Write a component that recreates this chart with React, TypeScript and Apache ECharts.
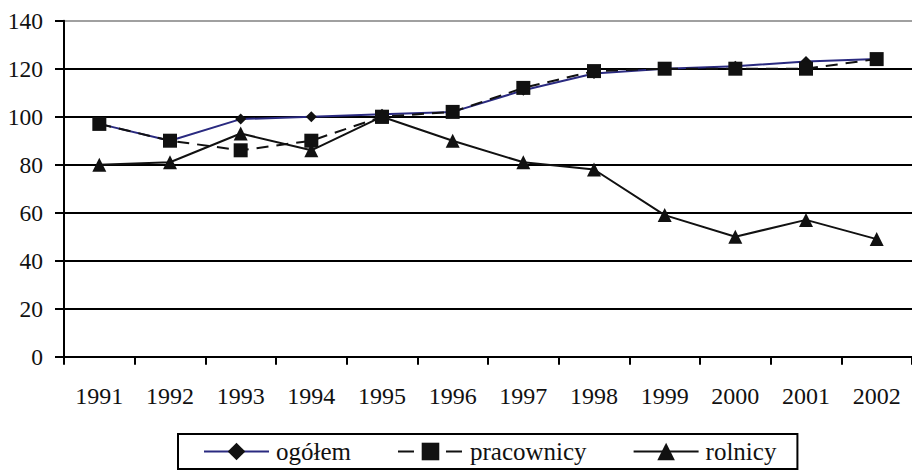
import React, { useEffect, useRef } from "react";
import * as echarts from "echarts";

const years = ["1991", "1992", "1993", "1994", "1995", "1996", "1997", "1998", "1999", "2000", "2001", "2002"];
const ogolem = [97, 90, 99, 100, 101, 102, 111, 118, 120, 121, 123, 124];
const pracownicy = [97, 90, 86, 90, 100, 102, 112, 119, 120, 120, 120, 124];
const rolnicy = [80, 81, 93, 86, 100, 90, 81, 78, 59, 50, 57, 49];
const seriesNames = ["ogółem", "pracownicy", "rolnicy"];

const FONT = "Liberation Serif";

export default function App() {
  const ref = useRef<HTMLDivElement>(null);
  useEffect(() => {
    document.body.style.margin = "0";
    const chart = echarts.init(ref.current!, null, { renderer: "svg" });
    chart.setOption({
      animation: false,
      backgroundColor: "#fff",
      textStyle: { fontFamily: FONT },
      grid: { left: 64, top: 20.7, width: 854, height: 336 },
      xAxis: {
        type: "category",
        data: years,
        boundaryGap: true,
        axisLine: { show: true, lineStyle: { color: "#000", width: 2 } },
        axisTick: { show: true, length: 8, interval: 0, lineStyle: { color: "#000", width: 2 } },
        axisLabel: { fontFamily: FONT, fontSize: 24, color: "#111", margin: 27, interval: 0 },
        splitLine: { show: false },
      },
      yAxis: {
        type: "value",
        min: 0,
        max: 140,
        interval: 20,
        axisLine: { show: true, lineStyle: { color: "#000", width: 2 } },
        axisTick: { show: true, length: 9, lineStyle: { color: "#000", width: 2 } },
        axisLabel: { fontFamily: FONT, fontSize: 23.5, color: "#111", margin: 21 },
        splitLine: {
          show: true,
          lineStyle: { color: ["#000", "#000", "#000", "#000", "#000", "#000", "#000", "#a0a0a0"], width: 2 },
        },
      },
      legend: {
        data: [
          { name: seriesNames[0] },
          { name: seriesNames[1], lineStyle: { type: [16, 8] } },
          { name: seriesNames[2] },
        ],
        left: 178,
        top: 434,
        orient: "horizontal",
        itemWidth: 65,
        itemHeight: 22,
        itemGap: 46,
        padding: [5, 21, 5, 25],
        borderColor: "#000",
        borderWidth: 2,
        textStyle: { fontFamily: FONT, fontSize: 25, color: "#111", padding: [0, 0, 0, 2] },
      },
      series: [
        {
          name: seriesNames[0],
          type: "line",
          data: ogolem,
          symbol: "diamond",
          symbolSize: 11,
          itemStyle: { color: "#111" },
          lineStyle: { color: "#2a2a80", width: 2 },
          z: 2,
        },
        {
          name: seriesNames[1],
          type: "line",
          data: pracownicy,
          symbol: "rect",
          symbolSize: 14,
          itemStyle: { color: "#111" },
          lineStyle: { color: "#111", width: 2, type: [12, 8] },
          z: 3,
        },
        {
          name: seriesNames[2],
          type: "line",
          data: rolnicy,
          symbol: "triangle",
          symbolSize: 14,
          itemStyle: { color: "#111" },
          lineStyle: { color: "#111", width: 2 },
          z: 4,
        },
      ],
    });
    return () => chart.dispose();
  }, []);
  return <div ref={ref} style={{ width: 912, height: 470 }} />;
}
